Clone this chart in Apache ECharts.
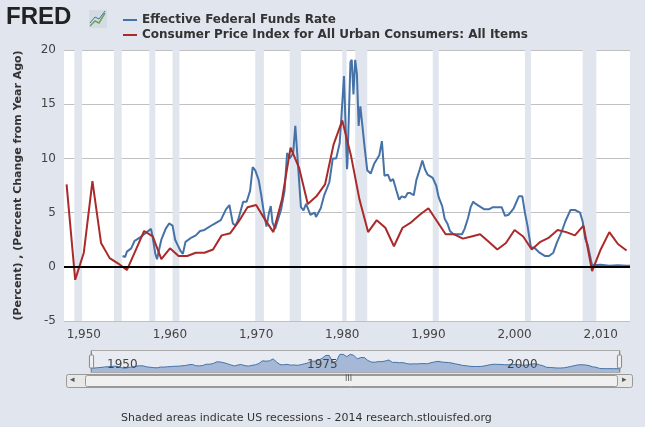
<!DOCTYPE html>
<html><head><meta charset="utf-8">
<script src="https://cdn.jsdelivr.net/npm/echarts@6/dist/echarts.min.js"></script>
<style>html,body{margin:0;padding:0;background:#e1e5ee}#c{width:645px;height:427px}</style>
</head><body><div id="c"></div>
<script>
const cpiYears=[1948,1949,1950,1951,1952,1953,1954,1955,1956,1957,1958,1959,1960,1961,1962,1963,1964,1965,1966,1967,1968,1969,1970,1971,1972,1973,1974,1975,1976,1977,1978,1979,1980,1981,1982,1983,1984,1985,1986,1987,1988,1989,1990,1991,1992,1993,1994,1995,1996,1997,1998,1999,2000,2001,2002,2003,2004,2005,2006,2007,2008,2009,2010,2011,2012,2013];
const cpiValues=[7.6,-1.2,1.3,7.9,2.2,0.8,0.3,-0.3,1.5,3.3,2.8,0.7,1.7,1.0,1.0,1.3,1.3,1.6,2.9,3.1,4.2,5.5,5.7,4.4,3.2,6.2,11.0,9.1,5.8,6.5,7.6,11.3,13.5,10.3,6.2,3.2,4.3,3.6,1.9,3.6,4.1,4.8,5.4,4.2,3.0,3.0,2.6,2.8,3.0,2.3,1.6,2.2,3.4,2.8,1.6,2.3,2.7,3.4,3.2,2.9,3.8,-0.4,1.6,3.2,2.1,1.5];
const ffYears=[1954.5,1954.8,1955.0,1955.5,1955.9,1956.5,1957.0,1957.8,1958.0,1958.3,1958.5,1958.8,1959.0,1959.5,1959.9,1960.3,1960.6,1960.9,1961.2,1961.5,1961.8,1962.0,1962.5,1963.0,1963.5,1964.0,1965.0,1965.9,1966.5,1966.9,1967.3,1967.6,1967.9,1968.5,1968.9,1969.3,1969.6,1969.9,1970.3,1970.6,1970.9,1971.2,1971.5,1971.7,1971.9,1972.2,1972.6,1972.9,1973.3,1973.6,1973.9,1974.3,1974.55,1974.9,1975.2,1975.5,1975.8,1976.3,1976.8,1976.95,1977.5,1977.9,1978.5,1978.9,1979.3,1979.7,1979.9,1980.2,1980.3,1980.55,1980.6,1980.95,1981.1,1981.3,1981.5,1981.7,1981.9,1982.1,1982.3,1982.6,1982.9,1983.3,1983.7,1983.9,1984.3,1984.6,1984.9,1985.3,1985.6,1985.9,1986.3,1986.6,1986.9,1987.3,1987.6,1987.9,1988.3,1988.6,1989.0,1989.3,1989.6,1989.9,1990.5,1990.9,1991.2,1991.6,1991.9,1992.2,1992.5,1992.9,1993.5,1993.9,1994.2,1994.6,1994.9,1995.2,1995.5,1995.9,1996.5,1997.0,1997.5,1998.0,1998.5,1998.9,1999.3,1999.9,2000.5,2000.9,2001.2,2001.5,2001.9,2002.3,2002.9,2003.5,2004.0,2004.5,2004.9,2005.5,2005.9,2006.5,2007.0,2007.6,2007.9,2008.2,2008.5,2008.9,2009.0,2010.0,2011.0,2012.0,2013.0,2013.4];
const ffValues=[1.0,0.9,1.4,1.7,2.4,2.7,3.0,3.5,2.7,1.2,0.7,1.8,2.5,3.5,4.0,3.8,2.5,2.0,1.5,1.2,2.3,2.2,2.7,2.9,3.3,3.4,3.9,4.3,5.3,5.7,4.0,3.8,4.3,6.0,6.0,7.0,9.2,8.9,8.0,6.6,5.0,3.7,5.0,5.6,4.1,3.5,4.5,5.3,7.0,10.5,10.0,10.5,13.0,9.0,5.5,5.2,5.8,4.8,5.0,4.6,5.4,6.6,7.8,10.0,10.0,11.4,13.8,17.6,17.6,9.0,9.5,18.9,19.1,15.9,19.1,17.8,13.0,14.8,14.9,11.0,8.9,8.6,9.5,9.4,10.3,11.6,8.4,8.5,7.9,8.1,7.0,6.2,6.5,6.4,6.8,6.8,6.6,8.0,9.0,9.8,9.0,8.5,8.2,7.5,6.4,5.6,4.4,4.0,3.3,3.0,3.0,3.0,3.5,4.5,5.5,6.0,5.8,5.6,5.3,5.3,5.5,5.5,5.5,4.7,4.8,5.4,6.5,6.5,5.0,3.8,1.8,1.75,1.3,1.0,1.0,1.3,2.2,3.3,4.2,5.25,5.25,5.0,4.2,2.6,2.0,0.5,0.15,0.18,0.1,0.15,0.1,0.1];
const recessions=[[1948.9,1949.8],[1953.5,1954.4],[1957.6,1958.3],[1960.3,1961.1],[1969.9,1970.9],[1973.9,1975.2],[1980.0,1980.5],[1981.5,1982.9],[1990.5,1991.2],[2001.2,2001.9],[2007.9,2009.5]];
const xTicks=[1950,1960,1970,1980,1990,2000,2010];
const chart=echarts.init(document.getElementById('c'));
const z=(a,b)=>a.map((v,i)=>[v,b[i]]);
chart.setOption({
 backgroundColor:'#e1e5ee',animation:false,
 grid:{left:64,right:15,top:50,bottom:106,show:true,backgroundColor:'#fff',borderWidth:0},
 xAxis:{type:'value',min:1947.7,max:2013.4,splitLine:{show:false},axisLine:{show:false},
  axisTick:{show:false},axisLabel:{customValues:xTicks,color:'#444',fontSize:12,fontFamily:'DejaVu Sans'}},
 yAxis:{type:'value',min:-5,max:20,interval:5,axisLine:{show:false},axisTick:{show:false},
  splitLine:{lineStyle:{color:'#c0c0c0'}},axisLabel:{color:'#444',fontSize:12,fontFamily:'DejaVu Sans'},
  name:'(Percent) , (Percent Change from Year Ago)',nameLocation:'middle',nameGap:40,
  nameTextStyle:{fontWeight:'bold',fontSize:11,color:'#333',fontFamily:'DejaVu Sans'}},
 dataZoom:[{type:'slider',xAxisIndex:0,left:88,right:27,top:350,height:23,start:0,end:100,
  showDetail:false,backgroundColor:'#e8ebf2',borderColor:'#aaa',fillerColor:'rgba(0,0,0,0)',
  dataBackground:{lineStyle:{color:'#4572a7',width:1},areaStyle:{color:'#a5b9d6',opacity:1}},
  selectedDataBackground:{lineStyle:{color:'#4572a7',width:1},areaStyle:{color:'#a5b9d6',opacity:1}},
  handleSize:'90%',handleStyle:{color:'#eee',borderColor:'#888'},moveHandleSize:0,brushSelect:false}],
 series:[
  {name:'Effective Federal Funds Rate',type:'line',data:z(ffYears,ffValues),showSymbol:false,
   lineStyle:{color:'#4572a7',width:2},itemStyle:{color:'#4572a7'},z:3,
   markArea:{silent:true,itemStyle:{color:'#e1e5ee'},data:recessions.map(r=>[{xAxis:r[0]},{xAxis:r[1]}])},
   markLine:{silent:true,symbol:'none',label:{show:false},lineStyle:{color:'#000',width:2,type:'solid'},data:[{yAxis:0}]}},
  {name:'Consumer Price Index for All Urban Consumers: All Items',type:'line',data:z(cpiYears,cpiValues),
   showSymbol:false,lineStyle:{color:'#aa2a2a',width:2},itemStyle:{color:'#aa2a2a'},z:4}
 ],
 legend:{orient:'vertical',left:118,top:9,itemGap:3,itemWidth:14,itemHeight:2,icon:'rect',
  textStyle:{fontWeight:'bold',fontSize:12,color:'#333',fontFamily:'DejaVu Sans'}},
 graphic:[
  {type:'text',left:6,top:5,style:{text:'FRED',font:'900 24px "Liberation Sans"',fill:'#222'}},
  {type:'rect',left:89,top:10,shape:{width:18,height:18},style:{fill:'#d5dbe5'}},
  {type:'polyline',shape:{points:[[90,26],[95,21],[99,23],[105,13]]},style:{stroke:'#6aa84f',lineWidth:1.5,fill:null}},
  {type:'polyline',shape:{points:[[90,23],[95,17],[99,19],[105,11]]},style:{stroke:'#4572a7',lineWidth:1,fill:null}},
  {type:'text',z:100,left:107,top:359,style:{text:'1950',font:'12px "DejaVu Sans"',fill:'#444'}},
  {type:'text',z:100,left:307,top:359,style:{text:'1975',font:'12px "DejaVu Sans"',fill:'#444'}},
  {type:'text',z:100,left:507,top:359,style:{text:'2000',font:'12px "DejaVu Sans"',fill:'#444'}},
  {type:'rect',left:66,top:374,shape:{width:566,height:13,r:2},style:{fill:'#e8e8e8',stroke:'#999'}},
  {type:'rect',left:85,top:375,shape:{width:532,height:11,r:2},style:{fill:'#f0f0f0',stroke:'#999'}},
  {type:'text',left:345,top:375,style:{text:'III',font:'8px "DejaVu Sans"',fill:'#555'}},
  {type:'text',left:70,top:375,style:{text:'◂',font:'9px "DejaVu Sans"',fill:'#555'}},
  {type:'text',left:622,top:375,style:{text:'▸',font:'9px "DejaVu Sans"',fill:'#555'}},
  {type:'text',left:121,top:413,style:{text:'Shaded areas indicate US recessions - 2014 research.stlouisfed.org',font:'11px "DejaVu Sans"',fill:'#333'}}
 ]
});
</script></body></html>
